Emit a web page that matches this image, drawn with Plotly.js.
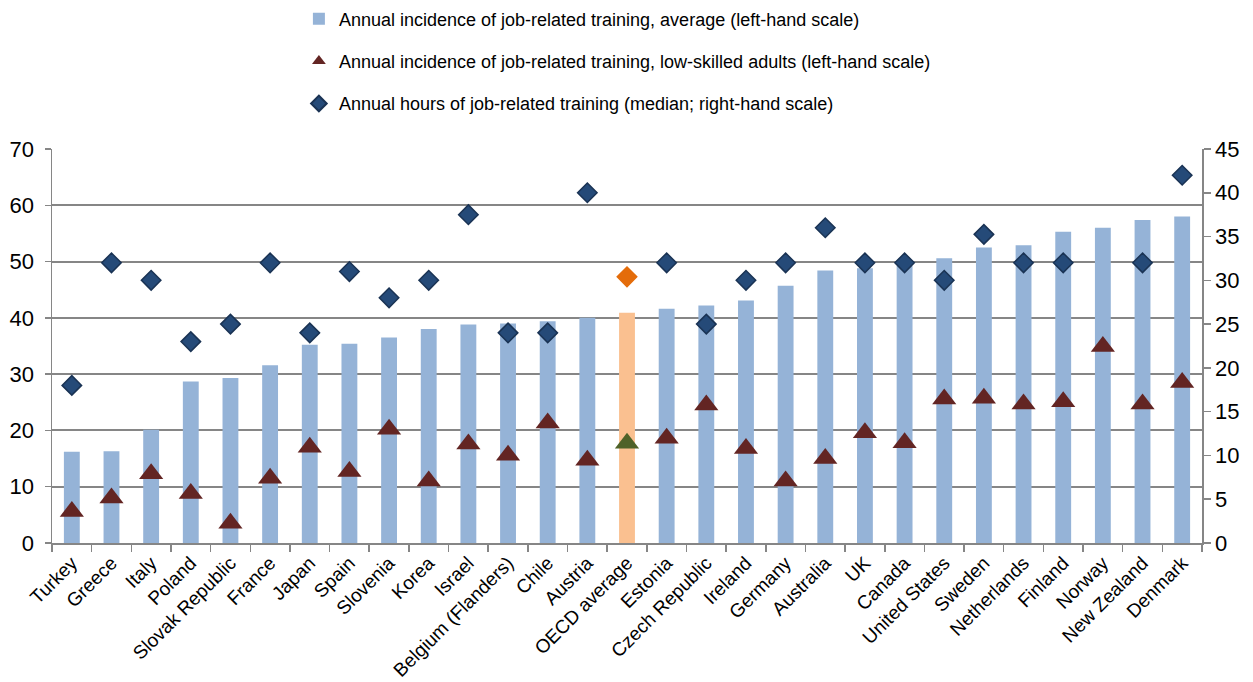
<!DOCTYPE html>
<html>
<head>
<meta charset="utf-8">
<script src="https://cdn.plot.ly/plotly-3.0.1.min.js"></script>
<style>html,body{margin:0;padding:0;background:#fff;}#chart{width:1253px;height:682px;}</style>
</head>
<body>
<div id="chart"></div>
<script>
const countries = ["Turkey","Greece","Italy","Poland","Slovak Republic","France","Japan","Spain","Slovenia","Korea","Israel","Belgium (Flanders)","Chile","Austria","OECD average","Estonia","Czech Republic","Ireland","Germany","Australia","UK","Canada","United States","Sweden","Netherlands","Finland","Norway","New Zealand","Denmark"];
const incidenceAverage = [16.2,16.3,20.1,28.7,29.3,31.6,35.2,35.4,36.5,38.0,38.8,39.0,39.4,40.0,40.9,41.6,42.2,43.1,45.7,48.4,48.8,49.2,50.6,52.5,52.9,55.3,56.0,57.4,58.0];
const incidenceLowSkilled = [5.6,8.0,12.3,8.8,3.5,11.5,17.0,12.7,20.2,11.0,17.6,15.6,21.3,14.7,17.7,18.6,24.5,16.8,11.0,15.0,19.6,17.8,25.6,25.7,24.7,25.1,34.9,24.7,28.5];
const hoursMedian = [18,32,30,23,25,32,24,31,28,30,37.5,24,24,40,30.4,32,25,30,32,36,32,32,30,35.25,32,32,null,32,42];
const legendNames = ["Annual incidence of job-related training, average (left-hand scale)","Annual incidence of job-related training, low-skilled adults (left-hand scale)","Annual hours of job-related training (median; right-hand scale)"];

const FONT = '"Liberation Sans Narrow","Arial Narrow","Liberation Sans",Arial,sans-serif';
const isAvg = c => c === "OECD average";

const traces = [
  {type:'bar', x:countries, y:incidenceAverage, name:legendNames[0], legendgroup:'a',
   width:0.4,
   marker:{color:countries.map(c=>isAvg(c)?'#fac090':'#95b3d7')}},
  {type:'scatter', mode:'markers', x:countries, y:incidenceLowSkilled, name:legendNames[1], legendgroup:'b',
   marker:{symbol:'triangle-up', size:21, color:countries.map(c=>isAvg(c)?'#4f6228':'#632523')}},
  {type:'scatter', mode:'markers', x:countries, y:hoursMedian, name:legendNames[2], legendgroup:'c', yaxis:'y2',
   marker:{symbol:'diamond', size:15, color:countries.map(c=>isAvg(c)?'#e46c0a':'#254a78'),
           line:{color:countries.map(c=>isAvg(c)?'#e46c0a':'#1a3354'), width:1.5}}}
];

const layout = {
  width:1253, height:682,
  margin:{l:52, r:51, t:149, b:139, autoexpand:false},
  paper_bgcolor:'#fff', plot_bgcolor:'#fff',
  font:{family:FONT, size:18, color:'#000'},
  showlegend:true,
  legend:{x:0.2147, y:1.377, xanchor:'left', yanchor:'top', orientation:'v',
          traceorder:'grouped', tracegroupgap:16, itemsizing:'constant',
          font:{family:FONT, size:18, color:'#000'}, bgcolor:'rgba(0,0,0,0)'},
  xaxis:{type:'category', range:[-0.5, countries.length-0.5], tickangle:-45, ticks:'outside', tickson:'boundaries', ticklen:7,
         tickcolor:'#868686', tickwidth:1.5, showline:true, linecolor:'#868686', linewidth:1.5,
         showgrid:false, tickfont:{family:FONT, size:19}, automargin:false},
  yaxis:{range:[0,70], dtick:10, ticks:'outside', ticklen:6, tickcolor:'#868686', tickwidth:1.5, ticklabelstandoff:6,
         showline:true, linecolor:'#868686', linewidth:1.5, showgrid:true, gridcolor:'#868686', gridwidth:2,
         zeroline:false, tickfont:{family:FONT, size:22}, automargin:false},
  yaxis2:{range:[0,45], dtick:5, overlaying:'y', side:'right', ticks:'outside', ticklen:7,
          tickcolor:'#868686', tickwidth:1.5, showline:true, linecolor:'#868686', linewidth:1.5,
          showgrid:false, zeroline:false, tickfont:{family:FONT, size:22}, automargin:false}
};

Plotly.newPlot('chart', traces, layout, {displayModeBar:false, staticPlot:true});
</script>
</body>
</html>
